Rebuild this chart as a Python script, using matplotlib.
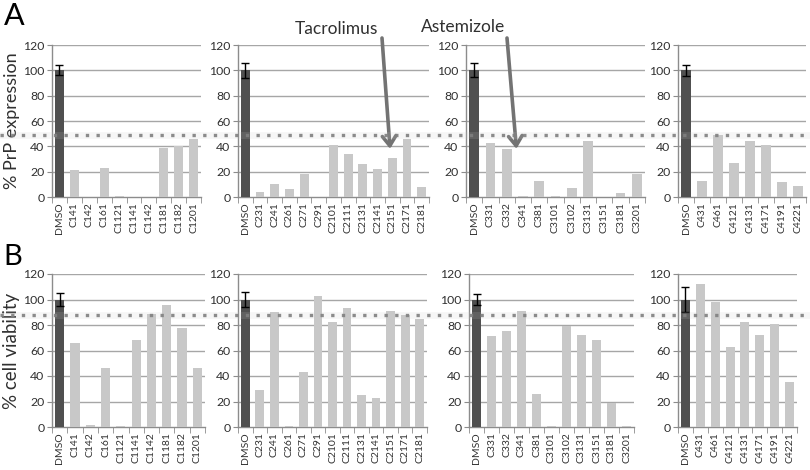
import matplotlib
matplotlib.use("Agg")
import matplotlib.pyplot as plt
from matplotlib.lines import Line2D
import numpy as np

plt.rcParams['font.family'] = ['Lato', 'DejaVu Sans']

# ---------------- data ----------------
cats_1 = ["DMSO", "C141", "C142", "C161", "C1121", "C1141", "C1142", "C1181", "C1182", "C1201"]
cats_2 = ["DMSO", "C231", "C241", "C261", "C271", "C291", "C2101", "C2111", "C2131", "C2141",
          "C2151", "C2171", "C2181"]
cats_3 = ["DMSO", "C331", "C332", "C341", "C381", "C3101", "C3102", "C3131", "C3151", "C3181", "C3201"]
cats_4 = ["DMSO", "C431", "C461", "C4121", "C4131", "C4171", "C4191", "C4221"]

prp_1 = [100, 21, 0, 23, 0.5, 0, 0, 39, 40, 46]
prp_2 = [100, 4, 10, 6, 18, 0, 41, 34, 26, 22, 31, 46, 8]
prp_3 = [100, 43, 38, 1, 13, 0.5, 7, 44, 0, 3.5, 18]
prp_4 = [100, 13, 49, 27, 44, 41, 12, 9]
prp_dmso_err = [4, 6, 5.5, 4.5]

via_1 = [100, 66, 1.5, 46, 1, 68, 89, 96, 78, 46]
via_2 = [100, 29, 90, 1, 43, 103, 82, 93, 25, 23, 91, 88, 85]
via_3 = [100, 71, 75, 91, 26, 1, 79, 72, 68, 19, 1]
via_4 = [100, 112, 98, 63, 82, 72, 81, 35]
via_dmso_err = [5, 6, 4, 10]

prp_threshold = 49
via_threshold = 88

yticks = [0, 20, 40, 60, 80, 100, 120]

# ---------------- layout ----------------
W, H = 810, 470
fig = plt.figure(figsize=(W / 100, H / 100), dpi=100)

top_x = [(52, 201), (238, 429), (466, 645), (678, 806)]
bot_x = [(52, 205), (238, 427), (469, 634), (678, 797)]
top_y = (45, 197)
bot_y = (274, 427)


def make_ax(xr, yr):
    l = xr[0] / W
    w = (xr[1] - xr[0]) / W
    b = 1 - yr[1] / H
    h = (yr[1] - yr[0]) / H
    return fig.add_axes([l, b, w, h])


dark = "#505050"
light = "#c8c8c8"
grid_c = "#a6a6a6"
spine_c = "#8c8c8c"
txt_c = "#303030"


def draw_panel(ax, cats, vals, err):
    n = len(cats)
    x = np.arange(n)
    colors = [dark] + [light] * (n - 1)
    ax.bar(x, vals, width=0.6, color=colors, zorder=3)
    ax.errorbar([0], [vals[0]], yerr=[err], fmt='none', ecolor='black',
                elinewidth=1.0, capsize=3, capthick=1.0, zorder=4)
    ax.set_xlim(-0.5, n - 0.5)
    ax.set_ylim(0, 120)
    ax.set_yticks(yticks)
    ax.set_yticklabels([str(t) for t in yticks])
    for t in yticks[1:]:
        ax.axhline(t, color=grid_c, lw=1.0, zorder=1)
    ax.set_xticks(x)
    ax.set_xticklabels(cats, rotation=90, fontsize=7.5, color=txt_c)
    ax.set_xticks(np.arange(n + 1) - 0.5, minor=True)
    ax.tick_params(axis='x', which='major', length=0, pad=4)
    ax.tick_params(axis='x', which='minor', length=4, color=spine_c, direction='out')
    ax.tick_params(axis='y', length=3.5, color=spine_c, labelsize=8.8, labelcolor=txt_c, pad=2)
    for s in ['top', 'right']:
        ax.spines[s].set_visible(False)
    for s in ['left', 'bottom']:
        ax.spines[s].set_color(spine_c)
        ax.spines[s].set_linewidth(1.0)
    ax.set_facecolor('none')


all_cats = [cats_1, cats_2, cats_3, cats_4]
all_prp = [prp_1, prp_2, prp_3, prp_4]
all_via = [via_1, via_2, via_3, via_4]

top_axes = []
bot_axes = []
for i in range(4):
    a = make_ax(top_x[i], top_y)
    draw_panel(a, all_cats[i], all_prp[i], prp_dmso_err[i])
    top_axes.append(a)
    b = make_ax(bot_x[i], bot_y)
    draw_panel(b, all_cats[i], all_via[i], via_dmso_err[i])
    bot_axes.append(b)

top_axes[0].set_ylabel("% PrP expression", fontsize=13, color=txt_c, labelpad=2)
bot_axes[0].set_ylabel("% cell viability", fontsize=13.5, color=txt_c, labelpad=2)


# threshold dotted lines spanning whole figure
def fig_y(ax, val):
    disp = ax.transData.transform((0, val))
    return fig.transFigure.inverted().transform(disp)[1]


for ax, thr in [(top_axes[0], prp_threshold), (bot_axes[0], via_threshold)]:
    yf = fig_y(ax, thr)
    fig.add_artist(Line2D([0, 1], [yf, yf], transform=fig.transFigure,
                          color="#c8c8c8", lw=5, alpha=0.15, zorder=10))
    fig.add_artist(Line2D([0, 1], [yf, yf], transform=fig.transFigure,
                          color="#808080", lw=2.4, linestyle=(0, (1, 2.2)),
                          alpha=0.9, zorder=12))

# panel letters
fig.text(4 / W, 1 - 16 / H, "A", fontsize=22, va='center', ha='left', color='black')
fig.text(3 / W, 1 - 257 / H, "B", fontsize=21, va='center', ha='left', color='black')

# annotations
arrow_kw = dict(arrowstyle='->,head_length=0.5,head_width=0.35', lw=2.6,
                color='#737373', shrinkA=0, shrinkB=0, mutation_scale=14)
fig.text(336 / W, 1 - 29 / H, "Tacrolimus", fontsize=12.5, ha='center', va='center', color=txt_c)
top_axes[1].annotate('', xy=(cats_2.index("C2151") - 0.15, 38), xycoords='data',
                     xytext=(382 / W, 1 - 38 / H), textcoords='figure fraction',
                     arrowprops=arrow_kw, annotation_clip=False)
fig.text(463 / W, 1 - 27 / H, "Astemizole", fontsize=12.5, ha='center', va='center', color=txt_c)
top_axes[2].annotate('', xy=(cats_3.index("C341") - 0.4, 38), xycoords='data',
                     xytext=(507 / W, 1 - 38 / H), textcoords='figure fraction',
                     arrowprops=arrow_kw, annotation_clip=False)

fig.savefig("out.png", dpi=100)
